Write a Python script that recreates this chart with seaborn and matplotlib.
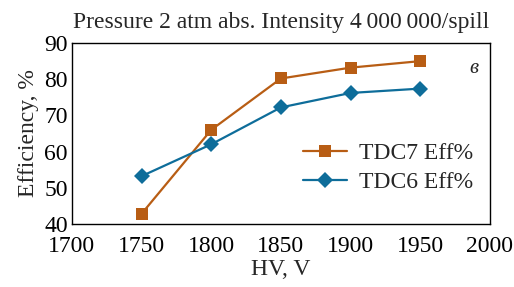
import pandas as pd
import matplotlib
matplotlib.use("Agg")
import matplotlib.pyplot as plt
import seaborn as sns

# Data
hv = [1750, 1800, 1850, 1900, 1950]
tdc7_eff = [42.8, 66.0, 80.2, 83.2, 85.0]
tdc6_eff = [53.2, 62.0, 72.2, 76.2, 77.4]

df = pd.concat([
    pd.DataFrame({"HV": hv, "Eff": tdc7_eff, "series": "TDC7 Eff%"}),
    pd.DataFrame({"HV": hv, "Eff": tdc6_eff, "series": "TDC6 Eff%"}),
])

sns.set_style("white")
plt.rcParams['font.family'] = ['Liberation Serif', 'DejaVu Serif']

fig, ax = plt.subplots(figsize=(5.14, 2.87), dpi=100)
sns.lineplot(data=df, x="HV", y="Eff", hue="series", style="series",
             markers={"TDC7 Eff%": "s", "TDC6 Eff%": "D"}, dashes=False,
             palette={"TDC7 Eff%": "#B85D14", "TDC6 Eff%": "#0E6D9A"},
             markersize=8.5, linewidth=1.6, markeredgewidth=0, ax=ax)

ax.set_xlim(1700, 2000)
ax.set_ylim(40, 90)
ax.set_xticks([1700, 1750, 1800, 1850, 1900, 1950, 2000])
ax.set_yticks([40, 50, 60, 70, 80, 90])
ax.tick_params(direction="in", length=5, width=1, labelsize=17, colors="black")
ax.tick_params(axis="x", pad=9)
ax.tick_params(axis="y", pad=3)
for s in ax.spines.values():
    s.set_color("black")
    s.set_linewidth(1)

ax.set_title("Pressure 2 atm abs. Intensity 4\u2009000\u2009000/spill", fontsize=17, pad=11)
ax.set_xlabel("HV, V", fontsize=17, labelpad=1)
ax.set_ylabel("Efficiency, %", fontsize=17, labelpad=4)
ax.text(0.962, 0.86, "в", transform=ax.transAxes, fontsize=15, style="italic",
        ha="center", va="center")

leg = ax.legend(loc="lower right", bbox_to_anchor=(1.0, 0.08), frameon=False,
                fontsize=17, handlelength=1.9, handletextpad=0.5,
                labelspacing=0.3, borderaxespad=0.3)

fig.subplots_adjust(left=0.14, right=0.953, top=0.85, bottom=0.22)
fig.savefig("out.png", dpi=100)
